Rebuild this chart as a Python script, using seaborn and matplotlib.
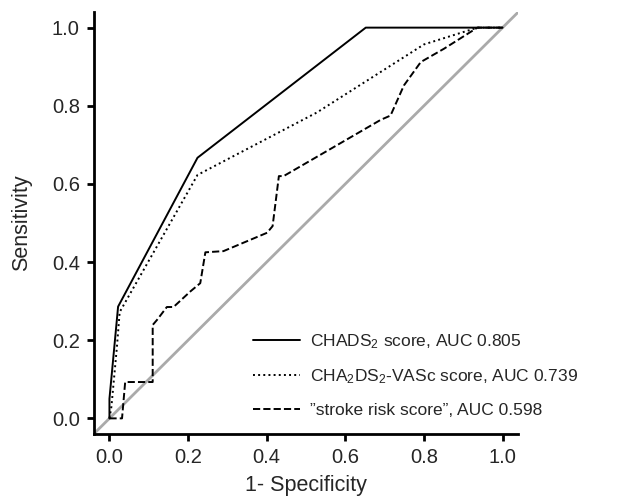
import pandas as pd
import seaborn as sns
import matplotlib
matplotlib.use("Agg")
import matplotlib.pyplot as plt

# ROC points
chads_fpr = [0.0, 0.0, 0.022, 0.224, 0.652, 1.0]
chads_tpr = [0.0, 0.05, 0.286, 0.667, 1.0, 1.0]

vasc_fpr = [0.0, 0.005, 0.019, 0.026, 0.224, 0.528, 0.80, 0.936, 1.0]
vasc_tpr = [0.0, 0.03, 0.183, 0.272, 0.623, 0.783, 0.957, 1.0, 1.0]

stroke_fpr = [0.0, 0.032, 0.040, 0.110, 0.110, 0.121, 0.146, 0.163, 0.206, 0.231,
              0.244, 0.290, 0.401, 0.415, 0.431, 0.443, 0.690, 0.715, 0.749,
              0.792, 0.851, 0.936, 1.0]
stroke_tpr = [0.0, 0.0, 0.093, 0.093, 0.239, 0.252, 0.285, 0.285, 0.325, 0.346,
              0.425, 0.428, 0.475, 0.492, 0.620, 0.620, 0.764, 0.775, 0.852,
              0.912, 0.946, 1.0, 1.0]

labels = ["CHADS$_2$ score, AUC 0.805",
          "CHA$_2$DS$_2$-VASc score, AUC 0.739",
          "\u201dstroke risk score\u201d, AUC 0.598"]

sns.set_style("ticks")
plt.rcParams["font.family"] = ["Liberation Sans", "DejaVu Sans"]
plt.rcParams["mathtext.fontset"] = "custom"
plt.rcParams["mathtext.rm"] = "Liberation Sans"
plt.rcParams["mathtext.default"] = "regular"

fig = plt.figure(figsize=(6.29, 5), dpi=100)
ax = fig.add_axes([0.149, 0.132, 0.675, 0.844])

# reference diagonal
ax.plot([-0.04, 1.04], [-0.04, 1.04], color="#aaaaaa", lw=2, zorder=1)

curves = [(chads_fpr, chads_tpr, "-"), (vasc_fpr, vasc_tpr, ":"),
          (stroke_fpr, stroke_tpr, "--")]
for (fx, fy, ls), lab in zip(curves, labels):
    df = pd.DataFrame({"fpr": fx, "tpr": fy})
    sns.lineplot(data=df, x="fpr", y="tpr", estimator=None, sort=False,
                 color="black", linestyle=ls, lw=1.4, label=lab, ax=ax)

ax.set_xlim(-0.04, 1.04)
ax.set_ylim(-0.04, 1.04)
ax.set_xticks([0.0, 0.2, 0.4, 0.6, 0.8, 1.0])
ax.set_yticks([0.0, 0.2, 0.4, 0.6, 0.8, 1.0])
ax.set_xticklabels(["0.0", "0.2", "0.4", "0.6", "0.8", "1.0"])
ax.set_yticklabels(["0.0", "0.2", "0.4", "0.6", "0.8", "1.0"])
ax.tick_params(labelsize=14.5, width=2, length=5, pad=5, direction="out",
               color="black")
for s in ["left", "bottom"]:
    ax.spines[s].set_linewidth(2)
    ax.spines[s].set_color("black")
sns.despine(ax=ax)

ax.set_xlabel("1- Specificity", fontsize=15.5, labelpad=6)
ax.set_ylabel("Sensitivity", fontsize=15.5, labelpad=14)

ax.legend(loc="center left", frameon=False, fontsize=12.5, handlelength=2.7,
          handletextpad=0.6, labelspacing=0.95, borderpad=0, borderaxespad=0,
          bbox_to_anchor=(0.3745, 0.14))

plt.savefig("out.png", dpi=100)
